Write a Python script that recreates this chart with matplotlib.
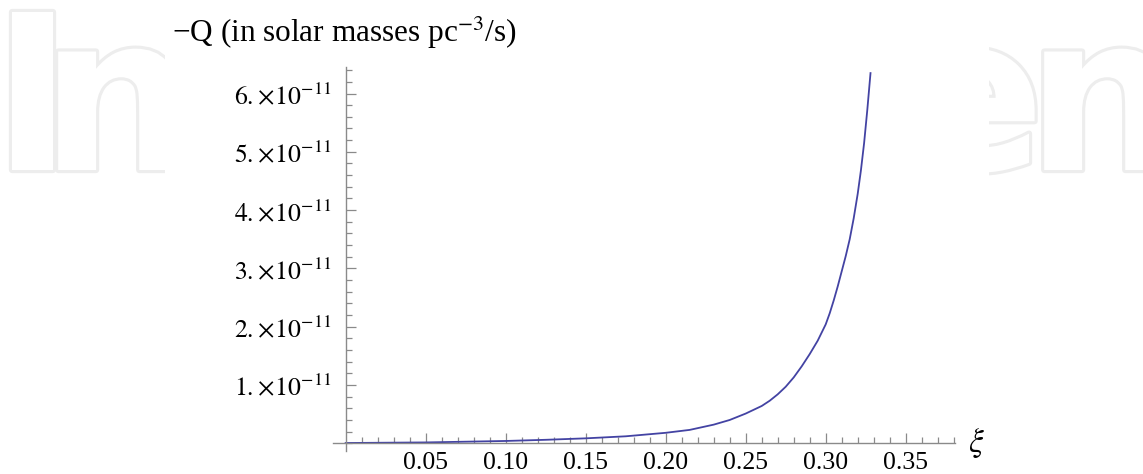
import numpy as np
import matplotlib.pyplot as plt
from matplotlib.patches import Rectangle
import matplotlib.patheffects as pe
from matplotlib.ticker import FixedLocator, MultipleLocator

plt.rcParams['font.family'] = ['Liberation Serif', 'DejaVu Serif']
plt.rcParams['mathtext.fontset'] = 'stix'

# values (Q in units of 1e-11)
xi = [0.00, 0.05, 0.10, 0.125, 0.15, 0.175, 0.20, 0.215, 0.23, 0.24,
      0.25, 0.26, 0.265, 0.27, 0.275, 0.28, 0.285, 0.29, 0.295, 0.30,
      0.3025, 0.305, 0.3075, 0.31, 0.3125, 0.315, 0.3175, 0.32, 0.322,
      0.324, 0.326, 0.328]
q = [0.005, 0.015, 0.04, 0.06, 0.085, 0.12, 0.18, 0.23, 0.32, 0.40,
     0.51, 0.64, 0.73, 0.84, 0.97, 1.13, 1.32, 1.53, 1.76, 2.04,
     2.23, 2.45, 2.69, 2.95, 3.21, 3.50, 3.86, 4.28, 4.68,
     5.15, 5.72, 6.35]
q = np.array(q) * 1e-11

xticks = [0.05, 0.10, 0.15, 0.20, 0.25, 0.30, 0.35]
yticks = [1e-11, 2e-11, 3e-11, 4e-11, 5e-11, 6e-11]
ylabels = [r'$%d.\!\times\!10^{-11}$' % k for k in range(1, 7)]

fig = plt.figure(figsize=(11.43, 4.74), dpi=100)

# faint watermark behind the chart
wm = dict(fontsize=156, family='DejaVu Sans', fontweight='bold', color='white',
          zorder=-3, va='baseline',
          path_effects=[pe.withStroke(linewidth=4.5, foreground='#ededed')])
fig.text(-8 / 1143, 1 - 170 / 474, 'I', ha='left', **wm)
fig.text(40 / 1143, 1 - 170 / 474, 'n', ha='left', **wm)
fig.text(1045 / 1143, 1 - 170 / 474, 'e', ha='right', **wm)
fig.text(1026 / 1143, 1 - 170 / 474, 'n', ha='left', **wm)
fig.add_artist(Rectangle((165 / 1143, 0), (989 - 165) / 1143, 1 - 12 / 474,
                         transform=fig.transFigure, facecolor='white',
                         edgecolor='none', zorder=-2))

# y=0 sits at pixel row 443, x=0 at pixel column 346
pos_bottom = (474 - 450.7) / 474
pos_top = (474 - 67) / 474
x0 = 333 / 1143
ax = fig.add_axes([x0, pos_bottom, (955 - 333) / 1143, pos_top - pos_bottom])
ax.patch.set_alpha(0)
ax.set_xlim(-0.0079, 0.3808)
ax.set_ylim(-(450.7 - 443.3) / 58.3 * 1e-11, (443.3 - 67) / 58.3 * 1e-11)

ax.plot(xi, q, color='#4343a3', lw=1.3)

for s in ['top', 'right']:
    ax.spines[s].set_visible(False)
ax.spines['left'].set_position(('data', 0))
ax.spines['bottom'].set_position(('data', 0))
for s in ['left', 'bottom']:
    ax.spines[s].set_color('#8a8a8a')
    ax.spines[s].set_linewidth(1.0)

ax.xaxis.set_major_locator(FixedLocator(xticks))
ax.xaxis.set_minor_locator(FixedLocator(np.arange(1, 39) * 0.01))
ax.yaxis.set_major_locator(FixedLocator(yticks))
ax.yaxis.set_minor_locator(MultipleLocator(0.2e-11))
ax.set_xticklabels(['%.2f' % t for t in xticks])
ax.set_yticklabels(ylabels)

ax.tick_params(which='both', direction='in', color='#8a8a8a', width=0.9)
ax.tick_params(which='major', length=7)
ax.tick_params(which='minor', length=4)
ax.tick_params(axis='x', which='major', labelsize=18.5, pad=6)
ax.tick_params(axis='y', which='major', labelsize=18.5, pad=10)

fig.text(172 / 1143, 1 - 42 / 474, '\u2212Q (in solar masses pc$^{-3}$/s)',
         fontsize=22.5, ha='left', va='baseline')
fig.text(968 / 1143, 1 - 452 / 474, r'$\xi$', fontsize=24, ha='left',
         va='baseline')

fig.savefig('out.png', dpi=100)
